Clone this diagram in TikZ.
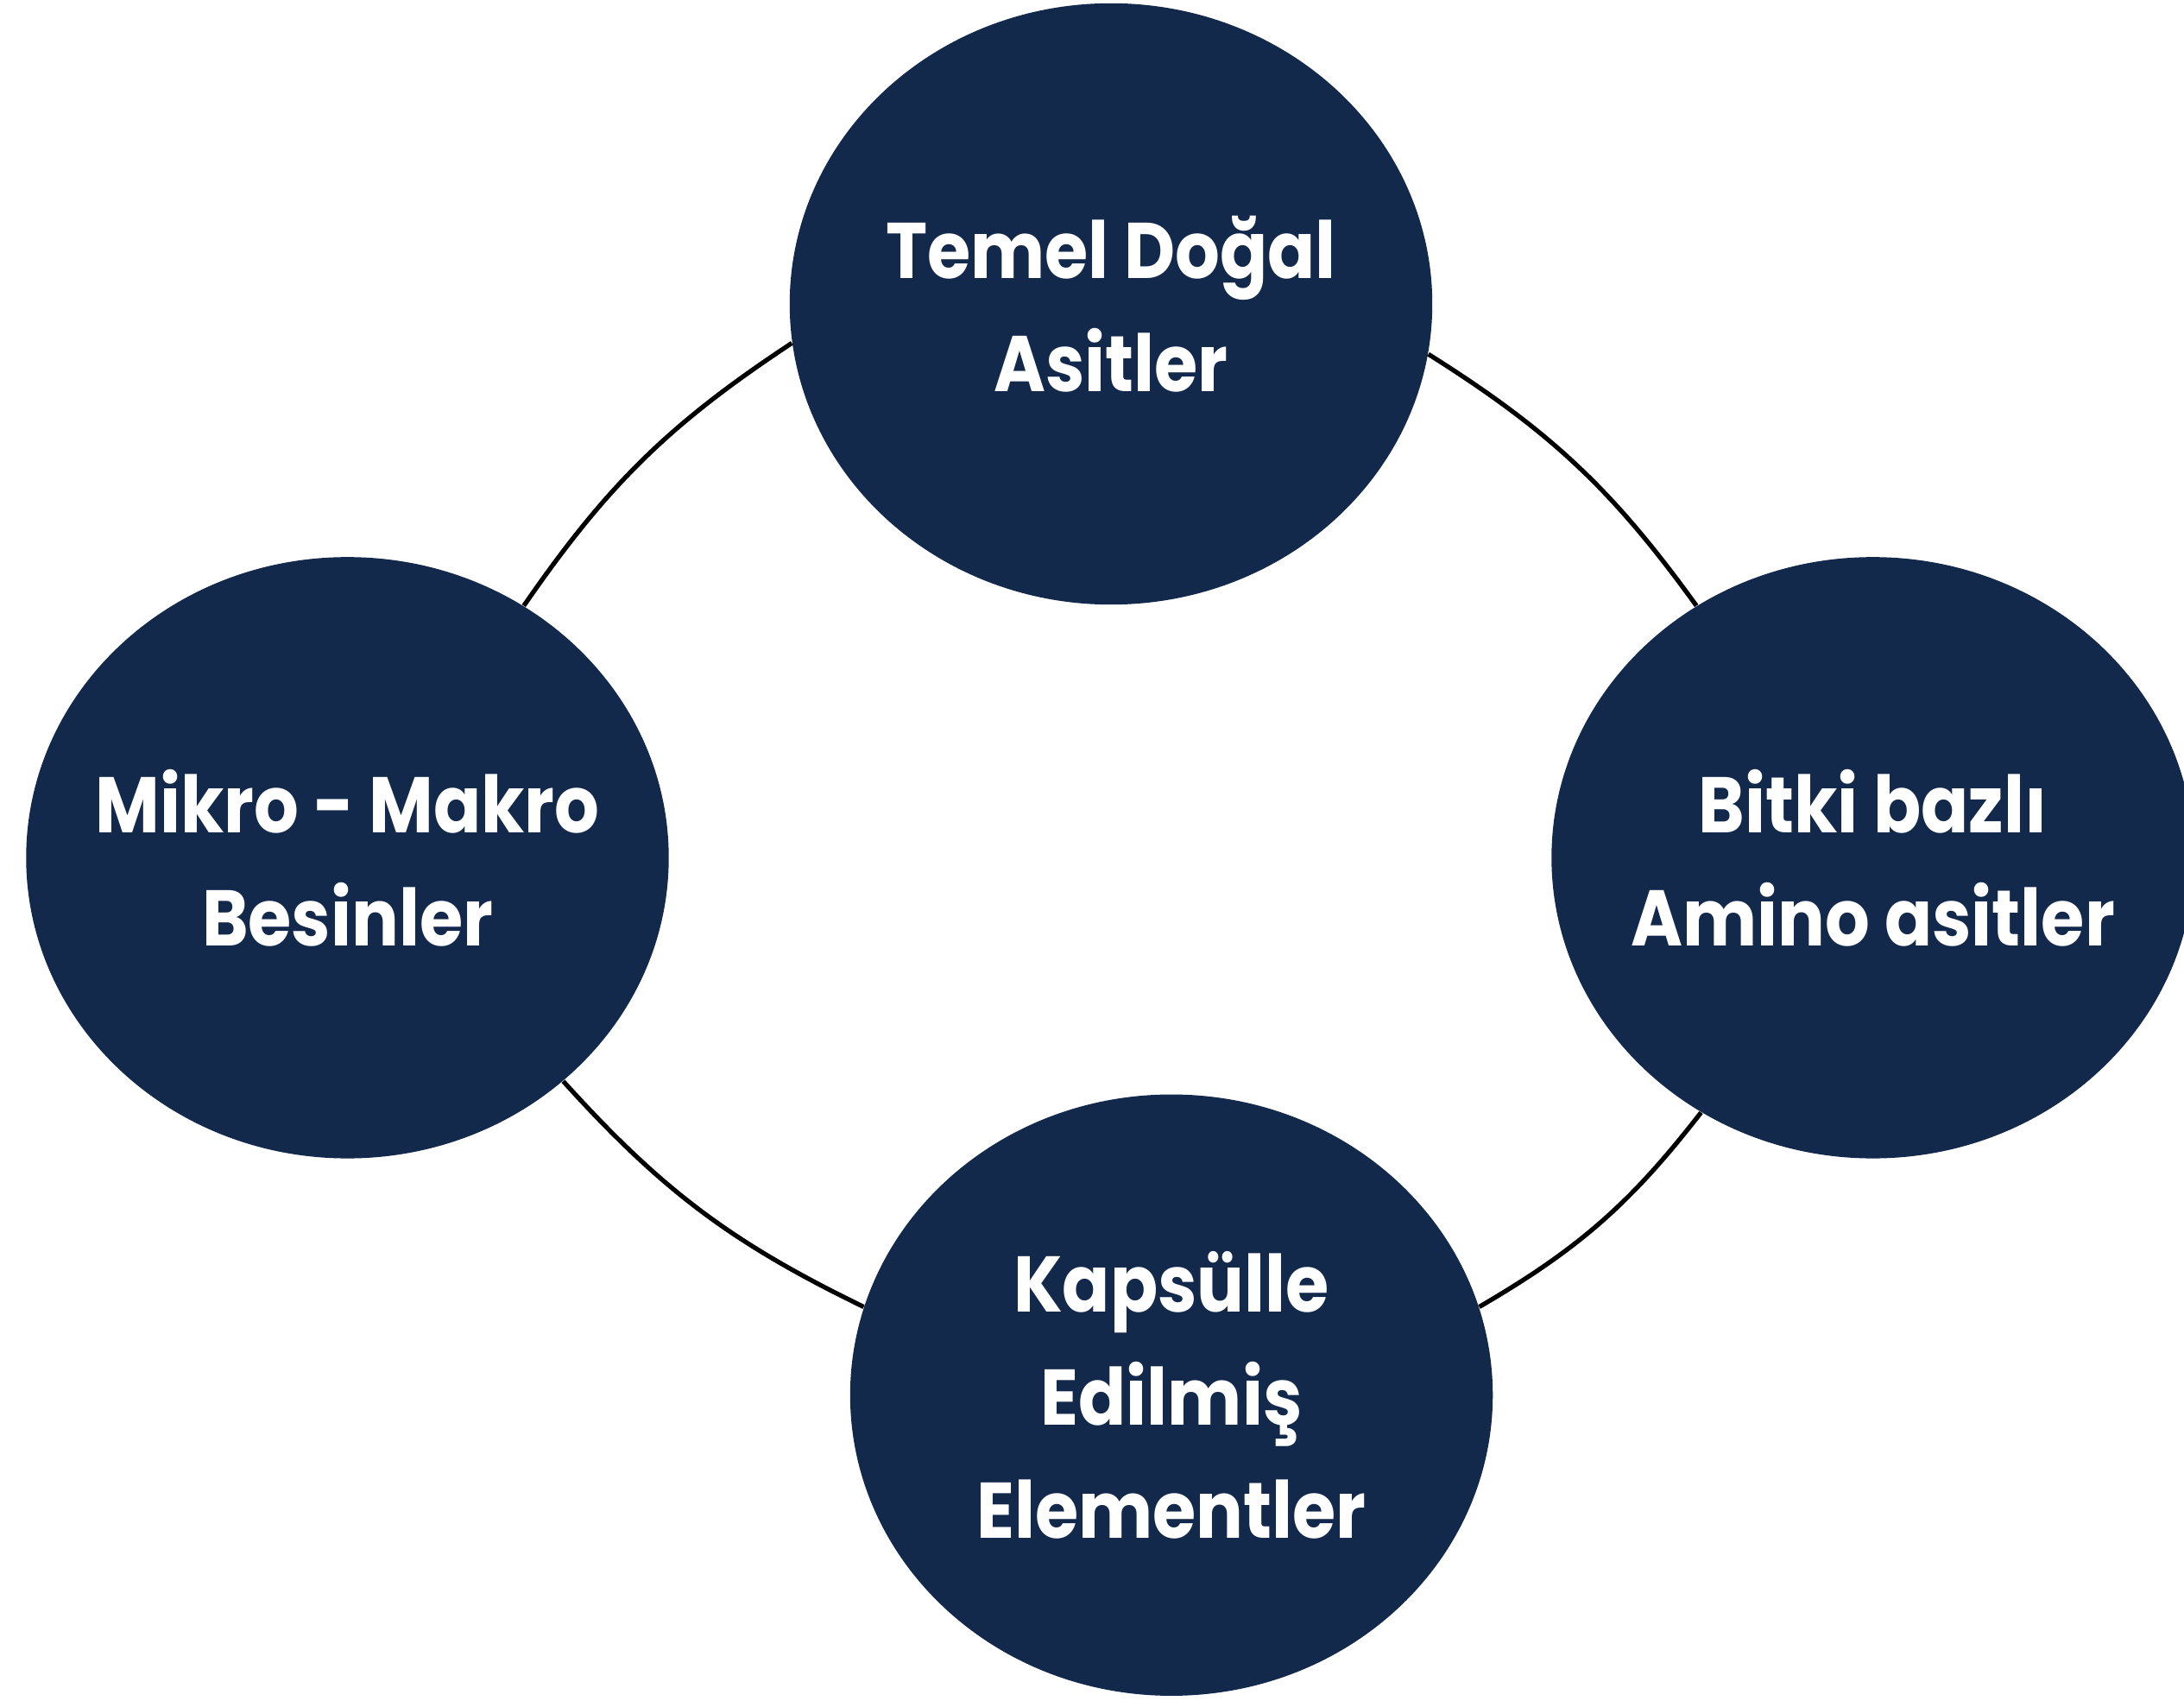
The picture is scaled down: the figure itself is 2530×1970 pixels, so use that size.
\documentclass[tikz,border=0pt]{standalone}
\usepackage{fontspec}
\setmainfont{Poppins}[FakeStretch=0.89]
\usepackage{tikz}
\usetikzlibrary{shapes.geometric, positioning}
\definecolor{navy}{RGB}{19,41,75}
\tikzset{
x=0.01cm, y=-0.01cm, % one unit is one pixel of the sketch
node distance=5cm, % default distance, overwritten below
blob/.style={ellipse, fill=navy, inner sep=0pt, minimum width=7.44cm, minimum height=6.96cm}, % the four dark ellipses
words/.style={text=white, align=center, font=\bfseries\fontsize{26pt}{37.3pt}\selectfont}, % white text inside
link/.style={line width=1.5pt, black}, % the thin curved joins
}

\begin{document}
\begin{tikzpicture}[on grid]
                \useasboundingbox (0,0) rectangle (2530,1970);
                \node[blob, label={[words]center:Temel Doğal\\Asitler}] (temel) at (1287,352) {};
                \node[blob, below left=6.41cm and 8.84cm of temel, label={[words]center:Mikro - Makro\\Besinler}] (mikro) {};
                \node[blob, right=17.66cm of mikro, label={[words]center:Bitki bazlı\\Amino asitler}] (bitki) {};
                \node[blob, below=12.63cm of temel, xshift=0.7cm, label={[words]center:Kapsülle\\Edilmiş\\Elementler}] (kapsul) {};
                \draw[link]
                    (mikro.55) to[bend left=11] (temel.187)
                    (temel.-9) to[bend left=11] (bitki.125)
                    (bitki.236) to[bend left=11] (kapsul.16)
                    (kapsul.164) to[bend left=11] (mikro.314);
\end{tikzpicture}
\end{document}
